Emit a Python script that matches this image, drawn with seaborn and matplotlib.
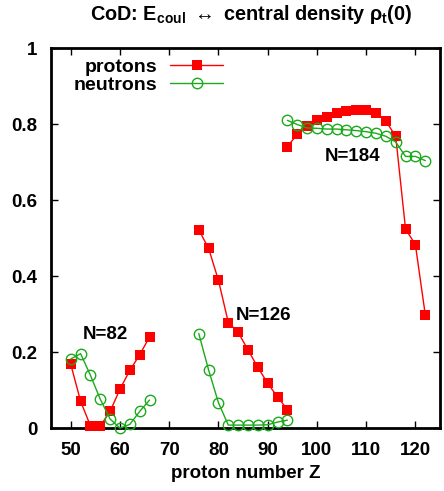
import numpy as np
import pandas as pd
import matplotlib
matplotlib.use("Agg")
import matplotlib.pyplot as plt
from matplotlib.lines import Line2D
import seaborn as sns

# ---- data ----
Z82 = [50, 52, 54, 56, 58, 60, 62, 64, 66]
prot82 = [0.168, 0.071, 0.006, 0.006, 0.044, 0.103, 0.152, 0.193, 0.240]
neut82 = [0.182, 0.196, 0.139, 0.076, 0.024, 0.000, 0.010, 0.044, 0.074]

Z126 = [76, 78, 80, 82, 84, 86, 88, 90, 92, 94]
prot126 = [0.522, 0.473, 0.389, 0.278, 0.252, 0.206, 0.160, 0.118, 0.082, 0.049]
neut126 = [0.249, 0.153, 0.067, 0.008, 0.008, 0.008, 0.008, 0.009, 0.016, 0.021]

Z184 = [94, 96, 98, 100, 102, 104, 106, 108, 110, 112, 114, 116, 118, 120, 122]
prot184 = [0.741, 0.773, 0.794, 0.810, 0.818, 0.829, 0.834, 0.838, 0.838, 0.829,
           0.808, 0.768, 0.524, 0.483, 0.299]
neut184 = [0.810, 0.799, 0.790, 0.789, 0.787, 0.787, 0.785, 0.783, 0.780, 0.776,
           0.768, 0.753, 0.715, 0.715, 0.704]

labels = ["N=82", "N=126", "N=184"]
label_pos = [(57.0, 0.247), (89.2, 0.297), (107.2, 0.716)]
xticks = [50, 60, 70, 80, 90, 100, 110, 120]
yticks = [0, 0.2, 0.4, 0.6, 0.8, 1]
ytick_labels = ["0", "0.2", "0.4", "0.6", "0.8", "1"]

rows = []
for grp, z, p, n in [("N82", Z82, prot82, neut82), ("N126", Z126, prot126, neut126),
                     ("N184", Z184, prot184, neut184)]:
    for zi, pi, ni in zip(z, p, n):
        rows.append(dict(Z=zi, val=pi, species="protons", group=grp))
        rows.append(dict(Z=zi, val=ni, species="neutrons", group=grp))
df = pd.DataFrame(rows)

sns.set_theme(style="ticks")
plt.rcParams["font.family"] = ["Liberation Sans", "DejaVu Sans"]
plt.rcParams["font.weight"] = "bold"
plt.rcParams["text.color"] = "black"
plt.rcParams["axes.labelcolor"] = "black"
plt.rcParams["xtick.color"] = "black"
plt.rcParams["ytick.color"] = "black"
plt.rcParams["mathtext.fontset"] = "custom"
plt.rcParams["mathtext.rm"] = "Liberation Sans:bold"
plt.rcParams["mathtext.it"] = "Liberation Sans:bold"
plt.rcParams["mathtext.bf"] = "Liberation Sans:bold"

fig = plt.figure(figsize=(4.44, 4.91), dpi=100)
ax = fig.add_axes([0.115, 0.128, 0.876, 0.774])

red = "#ff0000"
green = "#1aaa1a"

sns.lineplot(data=df[df.species == "protons"], x="Z", y="val", units="group",
             estimator=None, color=red, marker="s", markersize=7.2,
             markeredgewidth=0, linewidth=1.0, ax=ax, legend=False, clip_on=False, zorder=3)
sns.lineplot(data=df[df.species == "neutrons"], x="Z", y="val", units="group",
             estimator=None, color=green, marker="o", markersize=7.5,
             markerfacecolor="none", markeredgecolor=green, markeredgewidth=1.0,
             linewidth=1.0, ax=ax, legend=False, clip_on=False, zorder=3)

for lab, (x, y) in zip(labels, label_pos):
    ax.text(x, y, lab, ha="center", va="center", fontsize=13.5, fontweight="bold")

ax.set_xlim(46, 125)
ax.set_ylim(0, 1)
ax.set_xticks(xticks)
ax.set_yticks(yticks)
ax.set_yticklabels(ytick_labels)
ax.tick_params(axis="x", direction="in", top=True, length=5, width=1,
               labelsize=13.5, pad=10)
ax.tick_params(axis="y", direction="in", right=True, length=5, width=1,
               labelsize=13.5, pad=10)
for t in ax.get_xticklabels() + ax.get_yticklabels():
    t.set_fontweight("bold")
for s in ax.spines.values():
    s.set_linewidth(2)
    s.set_color("black")

ax.set_xlabel("proton number Z", fontsize=13.5, fontweight="bold", labelpad=4)
ax.set_ylabel("")
fig.text(0.565, 1 - 15 / 491,
         r"CoD: E$_{\mathrm{coul}}$ $\leftrightarrow$ central density $\rho_{\mathrm{t}}$(0)",
         fontsize=14.3, fontweight="bold", ha="center", va="center")

handles = [Line2D([], [], color=red, marker="s", markersize=7.2, markeredgewidth=0, lw=1),
           Line2D([], [], color=green, marker="o", markersize=7.5, markerfacecolor="none",
                  markeredgewidth=1, lw=1)]
leg = ax.legend(handles, ["protons", "neutrons"], loc="upper left", markerfirst=False,
                frameon=False, handlelength=2.75, handletextpad=0.65,
                borderaxespad=0.0, borderpad=0.0, labelspacing=0.05,
                bbox_to_anchor=(0.058, 0.974),
                prop={"weight": "bold", "size": 14})
for t in leg.get_texts():
    t.set_ha("right")

fig.savefig("out.png", dpi=100)
